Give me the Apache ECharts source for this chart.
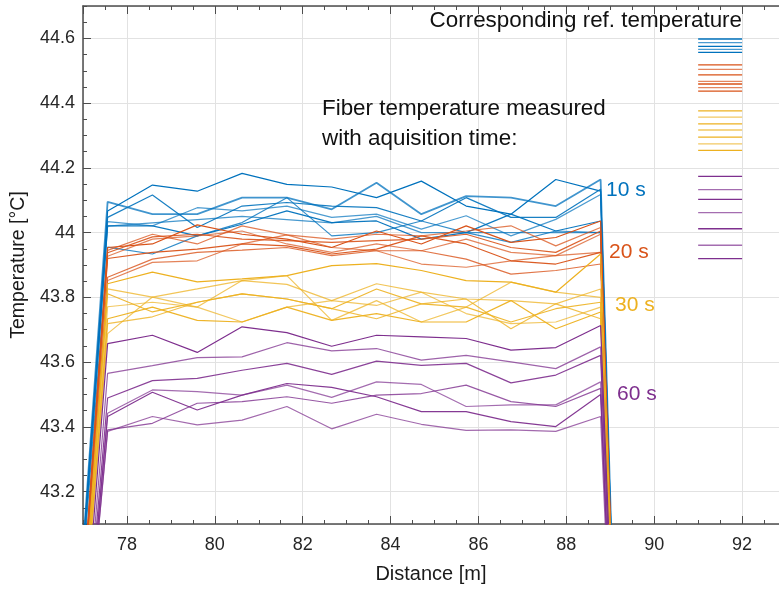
<!DOCTYPE html>
<html>
<head>
<meta charset="utf-8">
<script src="https://cdn.jsdelivr.net/npm/echarts@6/dist/echarts.min.js"></script>
<style>
html,body{margin:0;padding:0;background:#fff;}
#chart{width:779px;height:589px;}
</style>
</head>
<body>
<div id="chart"></div>
<script>
// ---- data ----
// distance positions of the measurement points along the fiber [m]
const distance = [76.54, 77.56, 78.58, 79.60, 80.62, 81.64, 82.66, 83.68, 84.70, 85.72, 86.74, 87.76, 88.78, 89.80];

// fiber temperatures (values at 77.56 ... 88.78), per acquisition time
const blue10s = [
  [44.067, 44.147, 44.128, 44.183, 44.149, 44.141, 44.108, 44.159, 44.082, 44.057, 44.164, 44.128],
  [44.095, 44.057, 44.057, 44.108, 44.108, 44.072, 44.154, 44.057, 44.113, 44.108, 44.082, 44.164],
  [44.047, 44.116, 44.016, 44.082, 44.093, 44.082, 44.077, 44.036, 44.108, 44.047, 44.047, 44.134],
  [44.034, 44.021, 44.077, 44.067, 44.082, 44.047, 44.057, 44.011, 44.052, 43.990, 44.041, 44.118],
  [44.021, 44.021, 43.990, 44.026, 44.067, 44.031, 44.036, 43.980, 44.000, 44.057, 44.005, 44.036],
  [43.955, 43.934, 43.990, 44.031, 44.108, 43.990, 44.000, 44.036, 44.000, 43.970, 44.005, 44.000],
  [44.020, 44.030, 44.040, 44.050, 44.040, 44.030, 44.050, 44.000, 44.000, 44.000, 44.000, 44.000]
];
const orange20s = [
  [43.954, 43.965, 44.024, 43.995, 43.980, 43.954, 44.005, 43.965, 44.021, 43.970, 43.985, 44.036],
  [43.945, 43.995, 43.965, 44.021, 43.993, 43.980, 43.995, 43.990, 44.005, 44.021, 43.959, 44.016],
  [43.938, 43.987, 43.995, 43.980, 43.975, 43.970, 43.975, 43.980, 43.995, 43.954, 43.939, 44.005],
  [43.927, 43.980, 43.990, 44.005, 43.965, 43.939, 43.965, 43.944, 43.980, 43.939, 43.929, 43.995],
  [43.920, 43.939, 43.949, 43.965, 43.959, 43.934, 43.949, 43.990, 43.965, 43.913, 43.903, 43.939],
  [43.862, 43.918, 43.939, 43.946, 43.954, 43.929, 43.944, 43.944, 43.918, 43.872, 43.883, 43.903],
  [43.852, 43.908, 43.913, 43.965, 43.993, 43.954, 43.944, 43.903, 43.893, 43.913, 43.929, 43.939]
];
const yellow30s = [
  [43.842, 43.878, 43.848, 43.857, 43.867, 43.898, 43.904, 43.883, 43.852, 43.847, 43.816, 43.934],
  [43.826, 43.801, 43.826, 43.852, 43.840, 43.790, 43.842, 43.816, 43.795, 43.790, 43.780, 43.826],
  [43.811, 43.755, 43.785, 43.811, 43.795, 43.765, 43.826, 43.780, 43.770, 43.724, 43.765, 43.785],
  [43.771, 43.785, 43.770, 43.724, 43.770, 43.790, 43.775, 43.816, 43.750, 43.719, 43.724, 43.770],
  [43.734, 43.770, 43.729, 43.724, 43.770, 43.729, 43.750, 43.724, 43.724, 43.790, 43.703, 43.755],
  [43.719, 43.740, 43.785, 43.811, 43.795, 43.765, 43.734, 43.780, 43.795, 43.703, 43.780, 43.734],
  [43.688, 43.801, 43.770, 43.852, 43.867, 43.729, 43.790, 43.724, 43.770, 43.847, 43.816, 43.800]
];
const purple60s = [
  [43.657, 43.683, 43.630, 43.709, 43.691, 43.649, 43.683, 43.678, 43.673, 43.637, 43.645, 43.713],
  [43.565, 43.589, 43.614, 43.616, 43.660, 43.635, 43.642, 43.606, 43.621, 43.601, 43.580, 43.647],
  [43.489, 43.543, 43.550, 43.575, 43.596, 43.562, 43.603, 43.590, 43.596, 43.536, 43.560, 43.621],
  [43.442, 43.514, 43.509, 43.498, 43.529, 43.491, 43.539, 43.531, 43.463, 43.468, 43.468, 43.539],
  [43.432, 43.507, 43.452, 43.498, 43.534, 43.522, 43.493, 43.447, 43.447, 43.416, 43.401, 43.500],
  [43.391, 43.411, 43.473, 43.478, 43.493, 43.473, 43.498, 43.503, 43.529, 43.478, 43.463, 43.519],
  [43.386, 43.432, 43.406, 43.421, 43.463, 43.394, 43.439, 43.408, 43.389, 43.391, 43.386, 43.432]
];
// temperatures just outside the heated section (before 77.56 m and after 88.78 m)
const edgeBlue = [42.15, 39.6];
const edgeOrange = [42.02, 39.8];
const edgeYellow = [41.97, 40.0];
const edgePurple = [41.90, 40.2];

// corresponding reference temperatures
const refSpan = [91, 92];
const refBlue = [44.598, 44.587, 44.575, 44.566, 44.557];
const refOrange = [44.518, 44.504, 44.487, 44.467, 44.459, 44.448, 44.437];
const refYellow = [44.376, 44.357, 44.336, 44.317, 44.295, 44.274, 44.254];
const refPurple = [44.174, 44.133, 44.103, 44.062, 44.012, 43.961, 43.920];

const groupNames = ['10 s', '20 s', '30 s', '60 s'];

// ---- styling ----
const COLORS = ['#0072BD', '#D95319', '#EDB120', '#7E2F8E'];
const OPAC = [1, 0.75, 0.9, 0.7, 0.95, 0.8, 0.72];
const FONT = 'Liberation Sans, Arial, Helvetica, sans-serif';
const AX = '#4d4d4d';
const X_MIN = 77, X_MAX = 92.84, Y_MIN = 43.1, Y_MAX = 44.7;

const groups = [
  {vals: blue10s, edge: edgeBlue, ref: refBlue},
  {vals: orange20s, edge: edgeOrange, ref: refOrange},
  {vals: yellow30s, edge: edgeYellow, ref: refYellow},
  {vals: purple60s, edge: edgePurple, ref: refPurple}
];

const series = [];
groups.forEach((g, gi) => {
  g.vals.forEach((line, li) => {
    const ys = [g.edge[0]].concat(line, [g.edge[1]]);
    series.push({
      name: groupNames[gi],
      type: 'line',
      xAxisIndex: 0, yAxisIndex: 0,
      data: distance.map((d, i) => [d, ys[i]]),
      symbol: 'none',
      clip: true,
      silent: true,
      z: 2 + gi,
      lineStyle: {color: COLORS[gi], width: (li === 1 && gi === 0) ? 1.8 : 1.2, opacity: OPAC[li % OPAC.length]}
    });
  });
});
groups.forEach((g, gi) => {
  g.ref.forEach((v, ri) => {
    series.push({
      name: 'ref ' + groupNames[gi],
      type: 'line',
      xAxisIndex: 0, yAxisIndex: 0,
      data: refSpan.map(x => [x, v]),
      symbol: 'none',
      silent: true,
      z: 2,
      lineStyle: {color: COLORS[gi], width: 1.3, opacity: ri % 2 === 0 ? 1 : 0.7}
    });
  });
});

const tickLbl = {color: '#262626', fontSize: 18, fontFamily: FONT};
const baseX = {type: 'value', min: X_MIN, max: X_MAX, axisLabel: {show: false}, splitLine: {show: false}, axisLine: {show: false}};
const baseY = {type: 'value', min: Y_MIN, max: Y_MAX, axisLabel: {show: false}, splitLine: {show: false}, axisLine: {show: false}};

const option = {
  animation: false,
  backgroundColor: '#ffffff',
  grid: {left: 83, right: 0, top: 6, bottom: 62.5, containLabel: false},
  xAxis: [
    Object.assign({}, baseX, {position: 'bottom', interval: 0.5,
      axisLine: {show: true, lineStyle: {color: AX, width: 1.5}},
      axisTick: {inside: true, length: 4, lineStyle: {color: AX}}}),
    Object.assign({}, baseX, {position: 'bottom', splitNumber: 8,
      axisTick: {inside: true, length: 8, lineStyle: {color: AX}},
      axisLabel: Object.assign({show: true, margin: 12, showMinLabel: false, showMaxLabel: false}, tickLbl),
      splitLine: {show: true, lineStyle: {color: '#e2e2e2', width: 1}},
      name: 'Distance [m]', nameLocation: 'middle', nameGap: 40,
      nameTextStyle: {color: '#1a1a1a', fontSize: 20, fontFamily: FONT}}),
    Object.assign({}, baseX, {position: 'top', interval: 0.5,
      axisLine: {show: true, lineStyle: {color: AX, width: 1.5}},
      axisTick: {inside: true, length: 4, lineStyle: {color: AX}}}),
    Object.assign({}, baseX, {position: 'top', splitNumber: 8,
      axisTick: {inside: true, length: 8, lineStyle: {color: AX}}})
  ],
  yAxis: [
    Object.assign({}, baseY, {position: 'left', interval: 0.05,
      axisLine: {show: true, lineStyle: {color: AX, width: 1.5}},
      axisTick: {inside: true, length: 4, lineStyle: {color: AX}}}),
    Object.assign({}, baseY, {position: 'left', splitNumber: 8,
      axisTick: {inside: true, length: 8, lineStyle: {color: AX}},
      axisLabel: Object.assign({show: true, margin: 8, showMinLabel: false, showMaxLabel: false}, tickLbl),
      splitLine: {show: true, lineStyle: {color: '#e2e2e2', width: 1}},
      name: 'Temperature [°C]', nameLocation: 'middle', nameGap: 45, nameRotate: 90,
      nameTextStyle: {color: '#1a1a1a', fontSize: 19.5, fontFamily: FONT}})
  ],
  graphic: [
    {type: 'text', right: 37, top: 10, z: 100, style: {text: 'Corresponding ref. temperature', fill: '#111', font: '22.4px ' + FONT}},
    {type: 'text', left: 322, top: 94, z: 100, style: {text: 'Fiber temperature measured\nwith aquisition time:', fill: '#111', font: '22.4px ' + FONT, lineHeight: 30}},
    {type: 'text', left: 606, top: 180, z: 100, style: {text: groupNames[0], fill: COLORS[0], font: '21px ' + FONT}},
    {type: 'text', left: 609, top: 242, z: 100, style: {text: groupNames[1], fill: COLORS[1], font: '21px ' + FONT}},
    {type: 'text', left: 615, top: 295, z: 100, style: {text: groupNames[2], fill: COLORS[2], font: '21px ' + FONT}},
    {type: 'text', left: 617, top: 384, z: 100, style: {text: groupNames[3], fill: COLORS[3], font: '21px ' + FONT}}
  ],
  series: series
};

const chart = echarts.init(document.getElementById('chart'), null, {renderer: 'canvas'});
chart.setOption(option);
</script>
</body>
</html>
